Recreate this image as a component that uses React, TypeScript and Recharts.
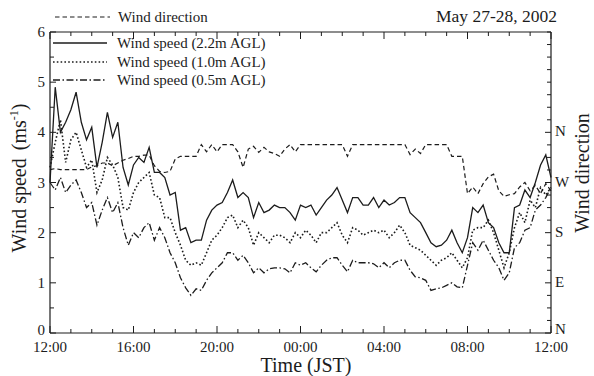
import React from 'react';
import { LineChart, Line, XAxis, YAxis } from 'recharts';

const FONT = '"Liberation Serif", "Times New Roman", serif';
const INK = '#1c1c1c';

// hours after 12:00 JST (May 27) — 15-minute samples
const hours = [
  0, 0.25, 0.5, 0.75, 1, 1.25, 1.5, 1.75, 2, 2.25, 2.5, 2.75, 3, 3.25, 3.5, 3.75,
  4, 4.25, 4.5, 4.75, 5, 5.25, 5.5, 5.75, 6, 6.25, 6.5, 6.75, 7, 7.25, 7.5, 7.75,
  8, 8.25, 8.5, 8.75, 9, 9.25, 9.5, 9.75, 10, 10.25, 10.5, 10.75, 11, 11.25, 11.5, 11.75,
  12, 12.25, 12.5, 12.75, 13, 13.25, 13.5, 13.75, 14, 14.25, 14.5, 14.75, 15, 15.25, 15.5, 15.75,
  16, 16.25, 16.5, 16.75, 17, 17.25, 17.5, 17.75, 18, 18.25, 18.5, 18.75, 19, 19.25, 19.5, 19.75,
  20, 20.25, 20.5, 20.75, 21, 21.25, 21.5, 21.75, 22, 22.25, 22.5, 22.75, 23, 23.25, 23.5, 23.75,
  24,
];

const windSpeed22 = [
  3.0, 4.9, 4.0, 4.2, 4.45, 4.8, 4.2, 3.85, 4.1, 3.3,
  3.8, 4.4, 3.9, 4.2, 3.3, 2.95, 3.35, 3.5, 3.4, 3.7,
  3.2, 3.2, 3.1, 2.75, 2.8, 2.05, 2.1, 1.8, 1.85, 1.85,
  2.25, 2.45, 2.55, 2.6, 2.8, 3.05, 2.7, 2.8, 2.7, 2.3,
  2.6, 2.4, 2.45, 2.55, 2.5, 2.5, 2.4, 2.25, 2.55, 2.5,
  2.55, 2.35, 2.5, 2.65, 2.75, 2.9, 2.65, 2.4, 2.7, 2.7,
  2.55, 2.55, 2.7, 2.5, 2.65, 2.55, 2.6, 2.7, 2.7, 2.4,
  2.3, 2.2, 2.0, 1.8, 1.72, 1.75, 1.85, 2.05, 1.8, 1.6,
  1.9, 2.5, 2.4, 2.55, 2.2, 2.1, 1.8, 1.6, 1.6, 2.5,
  2.55, 2.85, 2.7, 3.0, 3.35, 3.55, 3.1,
];

const windSpeed10 = [
  3.3, 3.8, 4.25, 3.4, 3.85, 4.0, 3.65, 3.3, 3.45, 2.8,
  3.05, 3.5, 3.35, 3.1, 2.5, 2.45, 2.8, 3.0, 3.1, 3.2,
  2.75, 2.7, 2.3, 2.3, 2.0, 1.75, 1.45, 1.35, 1.4, 1.35,
  1.6, 1.85, 1.95, 2.1, 2.3, 2.35, 2.1, 2.25, 2.1, 1.75,
  2.0, 1.9, 1.8, 1.95, 1.95, 1.9, 1.8, 2.0, 1.9, 2.05,
  1.95, 1.8, 2.0, 2.0, 2.1, 2.2, 1.95, 1.8, 2.1, 2.05,
  1.95, 2.0, 2.05, 2.0, 2.05, 1.9, 2.0, 2.15, 2.0, 1.75,
  1.7, 1.65, 1.55, 1.45, 1.35, 1.45, 1.5, 1.6, 1.45, 1.3,
  1.5, 2.05, 2.1, 2.1, 2.25, 2.0, 1.65, 1.3, 1.6, 2.1,
  2.4, 2.2, 2.65, 2.5, 2.9, 2.75, 2.9,
];

const windSpeed05 = [
  3.0, 2.85, 3.1, 2.8, 2.95, 3.05, 2.8, 2.5, 2.6, 2.15,
  2.45, 2.7, 2.4, 2.6, 2.1, 1.75, 2.0, 1.9, 2.1, 2.2,
  1.85, 2.1, 1.9, 1.6, 1.4, 1.1, 0.9, 0.75, 0.88, 0.85,
  1.05, 1.2, 1.3, 1.4, 1.6, 1.6, 1.45, 1.55, 1.4, 1.2,
  1.3, 1.2, 1.28, 1.3, 1.3, 1.28, 1.2, 1.4, 1.35, 1.4,
  1.3, 1.22, 1.35, 1.45, 1.5, 1.5, 1.35, 1.22, 1.45, 1.4,
  1.4, 1.4, 1.38, 1.3, 1.4, 1.3, 1.4, 1.45, 1.45, 1.25,
  1.12, 1.1, 1.05, 0.85, 0.88, 0.9, 0.95, 1.0, 0.92, 0.9,
  1.35, 1.8, 1.65, 1.85, 1.65, 1.45, 1.3, 1.05, 1.2, 1.7,
  1.8, 2.05, 2.1, 2.45, 2.55, 2.7, 2.9,
];

// wind direction in degrees (0 = N, 90 = E, 180 = S, 270 = W, 360 = N)
const windDirection = [
  293, 295, 293, 293, 293, 293, 293, 293, 298, 300,
  305, 305, 300, 305, 310, 313, 317, 317, 319, 319,
  300, 290, 288, 290, 312, 317, 317, 317, 317, 338,
  325, 338, 325, 338, 338, 338, 325, 297, 330, 335,
  324, 333, 325, 322, 317, 330, 338, 325, 338, 338,
  338, 338, 338, 338, 338, 338, 338, 317, 338, 338,
  338, 338, 338, 338, 338, 338, 338, 338, 338, 320,
  330, 322, 338, 338, 338, 338, 338, 317, 317, 317,
  250, 262, 250, 268, 280, 285, 255, 245, 248, 250,
  262, 270, 255, 265, 250, 268, 255,
];

const hourTicks = [0, 1, 2, 3, 4, 5, 6, 7, 8, 9, 10, 11, 12, 13, 14, 15, 16, 17, 18, 19, 20, 21, 22, 23, 24];
const hourTickLabels = ['12:00', '16:00', '20:00', '00:00', '04:00', '08:00', '12:00'];
const speedTicks = [0, 0.5, 1, 1.5, 2, 2.5, 3, 3.5, 4, 4.5, 5, 5.5, 6];
const directionTicks = [
  0, 22.5, 45, 67.5, 90, 112.5, 135, 157.5, 180, 202.5, 225, 247.5, 270, 292.5, 315, 337.5,
  360, 382.5, 405, 427.5, 450, 472.5, 495, 517.5, 540,
];
const directionTickLabels = ['N', 'E', 'S', 'W', 'N'];

const data = hours.map((t, i) => ({
  t,
  s22: windSpeed22[i],
  s10: windSpeed10[i],
  s05: windSpeed05[i],
  dir: windDirection[i],
}));

const BottomTick = (props: any) => {
  const { x, y, payload } = props;
  const v = payload.value;
  const major = v % 4 === 0;
  return (
    <g>
      <line x1={x} x2={x} y1={y} y2={y - (major ? 7 : 4)} stroke={INK} strokeWidth={1} />
      {major && (
        <text x={x} y={y + 19} textAnchor="middle" fontSize={15} fontFamily={FONT} fill={INK}>
          {hourTickLabels[v / 4]}
        </text>
      )}
    </g>
  );
};

const TopTick = (props: any) => {
  const { x, y, payload } = props;
  const major = payload.value % 4 === 0;
  return <line x1={x} x2={x} y1={y} y2={y + (major ? 7 : 4)} stroke={INK} strokeWidth={1} />;
};

const LeftTick = (props: any) => {
  const { x, y, payload } = props;
  const v = payload.value;
  const major = Number.isInteger(v);
  return (
    <g>
      <line x1={x} x2={x + (major ? 6 : 4)} y1={y} y2={y} stroke={INK} strokeWidth={1} />
      {major && (
        <text x={x - 5} y={v === 0 ? y + 2 : y + 5} textAnchor="end" fontSize={15} fontFamily={FONT} fill={INK}>
          {v}
        </text>
      )}
    </g>
  );
};

const RightTick = (props: any) => {
  const { x, y, payload } = props;
  const v = payload.value;
  const major = v % 90 === 0 && v <= 360;
  return (
    <g>
      <line x1={x} x2={x - (major ? 6 : 4)} y1={y} y2={y} stroke={INK} strokeWidth={1} />
      {major && (
        <text x={x + 4} y={v === 0 ? y + 1 : y + 4} textAnchor="start" fontSize={15} fontFamily={FONT} fill={INK}>
          {directionTickLabels[v / 90]}
        </text>
      )}
    </g>
  );
};

export default function App() {
  return (
    <div style={{ position: 'absolute', left: 0, top: 0, width: 594, height: 376, background: '#fff' }}>
      <LineChart
        width={594}
        height={376}
        data={data}
        margin={{ top: 2, right: 13, bottom: 13, left: 20 }}
      >
        <XAxis
          dataKey="t"
          type="number"
          domain={[0, 24]}
          ticks={hourTicks}
          interval={0}
          tickSize={0}
          tickMargin={0}
          tickLine={false}
          tick={<BottomTick />}
          axisLine={{ stroke: INK, strokeWidth: 1.2 }}
          height={30}
        />
        <XAxis
          xAxisId="top"
          orientation="top"
          dataKey="t"
          type="number"
          domain={[0, 24]}
          ticks={hourTicks}
          interval={0}
          tickSize={0}
          tickMargin={0}
          tickLine={false}
          tick={<TopTick />}
          axisLine={{ stroke: INK, strokeWidth: 1.2 }}
          height={30}
        />
        <YAxis
          yAxisId="ws"
          type="number"
          domain={[0, 6]}
          ticks={speedTicks}
          interval={0}
          tickSize={0}
          tickMargin={0}
          tickLine={false}
          tick={<LeftTick />}
          axisLine={{ stroke: INK, strokeWidth: 1.2 }}
          width={30}
        />
        <YAxis
          yAxisId="dir"
          orientation="right"
          type="number"
          domain={[0, 540]}
          ticks={directionTicks}
          interval={0}
          tickSize={0}
          tickMargin={0}
          tickLine={false}
          tick={<RightTick />}
          axisLine={{ stroke: INK, strokeWidth: 1.2 }}
          width={30}
        />
        <Line yAxisId="dir" dataKey="dir" type="linear" dot={false} stroke={INK} strokeWidth={1.2} strokeDasharray="4.5 3" isAnimationActive={false} />
        <Line yAxisId="ws" dataKey="s05" type="linear" dot={false} stroke={INK} strokeWidth={1.3} strokeDasharray="7 2.5 1.5 2.5" isAnimationActive={false} />
        <Line yAxisId="ws" dataKey="s10" type="linear" dot={false} stroke={INK} strokeWidth={1.6} strokeDasharray="1.6 2.2" isAnimationActive={false} />
        <Line yAxisId="ws" dataKey="s22" type="linear" dot={false} stroke={INK} strokeWidth={1.3} isAnimationActive={false} />
      </LineChart>
      <svg
        width={594}
        height={376}
        style={{ position: 'absolute', left: 0, top: 0, pointerEvents: 'none' }}
      >
        <g fontFamily={FONT} fill={INK}>
          <line x1={55} x2={110} y1={17} y2={17} stroke={INK} strokeWidth={1.2} strokeDasharray="4.5 3" />
          <text x={118} y={22} fontSize={15}>Wind direction</text>
          <text x={557} y={22} fontSize={17.5} textAnchor="end">May 27-28, 2002</text>

          <line x1={53} x2={107} y1={43} y2={43} stroke={INK} strokeWidth={1.3} />
          <text x={117} y={48} fontSize={15}>Wind speed (2.2m AGL)</text>
          <line x1={53} x2={107} y1={62} y2={62} stroke={INK} strokeWidth={1.6} strokeDasharray="1.6 2.2" />
          <text x={117} y={67} fontSize={15}>Wind speed (1.0m AGL)</text>
          <line x1={53} x2={107} y1={80} y2={80} stroke={INK} strokeWidth={1.3} strokeDasharray="7 2.5 1.5 2.5" />
          <text x={117} y={85} fontSize={15}>Wind speed (0.5m AGL)</text>

          <text x={26} y={178} fontSize={20} textAnchor="middle" transform="rotate(-90 26 178)">
            Wind speed
            <tspan dx={8}>(ms</tspan>
            <tspan fontSize={12} dy={-8}>-1</tspan>
            <tspan dy={8}>)</tspan>
          </text>
          <text x={589} y={173} fontSize={20} textAnchor="middle" transform="rotate(-90 589 173)">
            Wind direction
          </text>
          <text x={306} y={372} fontSize={20} textAnchor="middle">
            Time  (JST)
          </text>
        </g>
      </svg>
    </div>
  );
}
